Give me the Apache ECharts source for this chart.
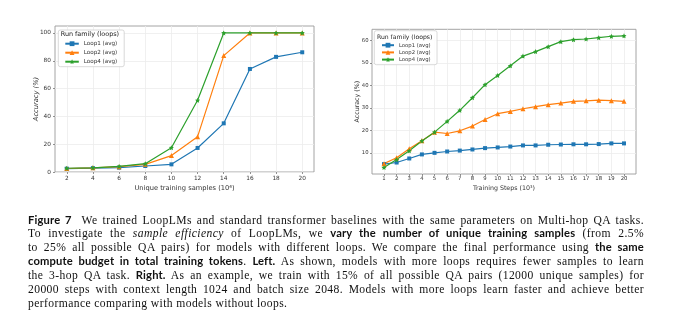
<!DOCTYPE html>
<html>
<head>
<meta charset="utf-8">
<script src="https://cdn.jsdelivr.net/npm/echarts@6/dist/echarts.min.js"></script>
<style>
html,body{margin:0;padding:0;background:#fff;}
#chart{position:absolute;left:0;top:0;width:680px;height:322px;}
#cap{position:absolute;left:28px;top:213.5px;width:616px;font-family:"Liberation Serif",serif;font-size:11.6px;line-height:13.85px;color:#111;letter-spacing:0.4px;}
#cap .l{text-align:justify;text-align-last:justify;height:13.85px;white-space:nowrap;}
#cap .last{text-align:left;text-align-last:left;}
#cap b{font-family:Lato,"Open Sans",sans-serif;font-weight:700;font-size:11.2px;letter-spacing:0.15px;line-height:1;}
</style>
</head>
<body>
<div id="chart"></div>
<div id="cap">
<div class="l"><b>Figure 7</b>&nbsp; We trained LoopLMs and standard transformer baselines with the same parameters on Multi-hop QA tasks.</div>
<div class="l">To investigate the <i>sample efficiency</i> of LoopLMs, we <b>vary the number of unique training samples</b> (from 2.5%</div>
<div class="l">to 25% all possible QA pairs) for models with different loops. We compare the final performance using <b>the same</b></div>
<div class="l"><b>compute budget in total training tokens</b>. <b>Left.</b> As shown, models with more loops requires fewer samples to learn</div>
<div class="l">the 3-hop QA task. <b>Right.</b> As an example, we train with 15% of all possible QA pairs (12000 unique samples) for</div>
<div class="l">20000 steps with context length 1024 and batch size 2048. Models with more loops learn faster and achieve better</div>
<div class="l last">performance comparing with models without loops.</div>
</div>
<script>
// Left chart: accuracy vs unique training samples (10^4)
const leftSamples = [2, 4, 6, 8, 10, 12, 14, 16, 18, 20];
const leftLoop1 = [2.4, 2.8, 3.1, 4.3, 5.5, 17.3, 35.0, 74.1, 82.8, 86.1];
const leftLoop2 = [2.5, 3.0, 3.8, 5.5, 11.8, 25.4, 83.7, 100, 100, 100];
const leftLoop4 = [2.7, 3.0, 4.0, 6.0, 17.5, 51.6, 100, 100, 100, 100];
const leftXTicks = [2, 4, 6, 8, 10, 12, 14, 16, 18, 20];
const leftYTicks = [0, 20, 40, 60, 80, 100];

// Right chart: accuracy vs training steps (10^3)
const rightSteps = [1, 2, 3, 4, 5, 6, 7, 8, 9, 10, 11, 12, 13, 14, 15, 16, 17, 18, 19, 20];
const rightLoop1 = [5.0, 5.7, 7.5, 9.3, 10.0, 10.6, 11.0, 11.5, 12.1, 12.4, 12.8, 13.3, 13.3, 13.6, 13.7, 13.8, 13.8, 13.9, 14.2, 14.2];
const rightLoop2 = [5.2, 7.8, 11.8, 15.4, 19.2, 18.6, 19.8, 21.9, 24.8, 27.4, 28.4, 29.6, 30.5, 31.4, 32.1, 32.9, 33.1, 33.4, 33.2, 32.9];
const rightLoop4 = [3.5, 7.0, 10.9, 15.3, 19.2, 24.0, 28.9, 34.5, 40.3, 44.4, 48.7, 53.0, 55.0, 57.2, 59.4, 60.3, 60.6, 61.2, 61.8, 62.0];
const rightXTicks = [1, 2, 3, 4, 5, 6, 7, 8, 9, 10, 11, 12, 13, 14, 15, 16, 17, 18, 19, 20];
const rightYTicks = [10, 20, 30, 40, 50, 60];

const seriesNames = ['Loop1 (avg)', 'Loop2 (avg)', 'Loop4 (avg)'];
const colors = ['#1f77b4', '#ff7f0e', '#2ca02c'];
const star = 'path://M0,-10L2.9,-4L9.5,-3.1L4.7,1.5L5.9,8.1L0,5L-5.9,8.1L-4.7,1.5L-9.5,-3.1L-2.9,-4Z';
const symbols = ['rect', 'triangle', star];
const symbolSizes = [4, 5, 5];

const FONT = 'DejaVu Sans';
const zip = (xs, ys) => xs.map((x, i) => [x, ys[i]]);

function mkSeries(xi, yi, xs, ysList) {
  return ysList.map((ys, k) => ({
    name: seriesNames[k], type: 'line', xAxisIndex: xi, yAxisIndex: yi,
    data: zip(xs, ys), symbol: symbols[k], symbolSize: symbolSizes[k],
    showSymbol: true, animation: false,
    lineStyle: { width: 1.2, color: colors[k] },
    itemStyle: { color: colors[k], borderWidth: 0 },
    emphasis: { disabled: true }
  }));
}

function xAxis(gi, min, max, ticks, name, fs, nfs, margin, gap) {
  return {
    type: 'value', gridIndex: gi, min: min, max: max,
    name: name, nameLocation: 'middle', nameGap: gap, nameMoveOverlap: false,
    nameTextStyle: { fontFamily: FONT, fontSize: nfs, color: '#333' },
    axisLine: { show: false },
    axisTick: { show: true, length: 2, lineStyle: { color: '#777', width: 0.8 }, customValues: ticks },
    axisLabel: { fontFamily: FONT, fontSize: fs, color: '#333', margin: margin, customValues: ticks },
    splitLine: { show: true, lineStyle: { color: '#ececec', width: 0.8 } }
  };
}
function yAxis(gi, min, max, ticks, name, fs, nfs, margin, gap, italic) {
  return {
    type: 'value', gridIndex: gi, min: min, max: max,
    name: name, nameLocation: 'middle', nameGap: gap, nameMoveOverlap: false,
    nameTextStyle: { fontFamily: FONT, fontSize: nfs, color: '#333', fontStyle: italic ? 'italic' : 'normal' },
    axisLine: { show: false },
    axisTick: { show: true, length: 2, lineStyle: { color: '#777', width: 0.8 }, customValues: ticks },
    axisLabel: { fontFamily: FONT, fontSize: fs, color: '#333', margin: margin, customValues: ticks },
    splitLine: { show: true, lineStyle: { color: '#ececec', width: 0.8 } }
  };
}

const chart = echarts.init(document.getElementById('chart'), null, { renderer: 'canvas' });
chart.setOption({
  animation: false,
  backgroundColor: '#fff',
  grid: [
    { left: 55, top: 26, width: 259, height: 146, show: true, borderColor: '#9a9a9a', borderWidth: 0.9, backgroundColor: 'transparent' },
    { left: 372, top: 29.3, width: 264, height: 144.7, show: true, borderColor: '#9a9a9a', borderWidth: 0.9, backgroundColor: 'transparent' }
  ],
  xAxis: [
    xAxis(0, 1.1, 20.9, leftXTicks, 'Unique training samples (10\u2074)', 5.8, 6.7, 3, 12.3),
    xAxis(1, 0.05, 20.95, rightXTicks, 'Training Steps (10\u00b3)', 5.3, 6.3, 2.5, 11.3)
  ],
  yAxis: [
    yAxis(0, 0, 105, leftYTicks, 'Accuracy (%)', 5.8, 6.7, 4, 15, true),
    yAxis(1, 0.6, 64.9, rightYTicks, 'Accuracy (%)', 5.3, 6.3, 3.5, 12, false)
  ],
  legend: [
    {
      data: seriesNames, orient: 'vertical', left: 58.3, top: 30,
      padding: [10.7, 7, 2, 6], itemWidth: 13.5, itemHeight: 6, itemGap: 3,
      backgroundColor: 'rgba(255,255,255,0.85)', borderColor: '#cfcfcf', borderWidth: 0.8, borderRadius: 2,
      textStyle: { fontFamily: FONT, fontSize: 5.6, color: '#333' }, selectedMode: false
    },
    {
      data: seriesNames, orient: 'vertical', left: 374.3, top: 30.7,
      padding: [12, 6.4, 2.6, 6.7], itemWidth: 12, itemHeight: 6, itemGap: 2.2,
      backgroundColor: 'rgba(255,255,255,0.85)', borderColor: '#cfcfcf', borderWidth: 0.8, borderRadius: 2,
      textStyle: { fontFamily: FONT, fontSize: 5.3, color: '#333' }, selectedMode: false
    }
  ],
  graphic: [
    { type: 'text', left: 60.7, top: 31, z: 100, style: { text: 'Run family (loops)', font: '6.45px "DejaVu Sans"', fill: '#222' } },
    { type: 'text', left: 377, top: 34, z: 100, style: { text: 'Run family (loops)', font: '6.1px "DejaVu Sans"', fill: '#222' } }
  ],
  series: [
    ...mkSeries(0, 0, leftSamples, [leftLoop1, leftLoop2, leftLoop4]),
    ...mkSeries(1, 1, rightSteps, [rightLoop1, rightLoop2, rightLoop4])
  ]
});
</script>
</body>
</html>
